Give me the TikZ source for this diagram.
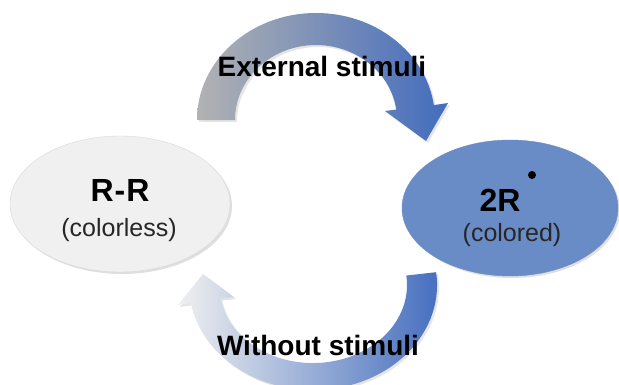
\documentclass[tikz,border=0pt]{standalone}
\usepackage{fontspec}
\setmainfont{Liberation Sans}
\usetikzlibrary{shadows,shapes.geometric}
\definecolor{arrowblue}{RGB}{66,108,190}
\definecolor{arrowgrey}{RGB}{178,178,178}
\definecolor{bubblegrey}{RGB}{240,240,240}
\definecolor{bubbleblue}{RGB}{106,140,198}
\tikzset{
  bubble/.style={ellipse, inner sep=0pt, draw=white!85!black, line width=0.4pt,
    drop shadow={opacity=0.25, shadow xshift=2pt, shadow yshift=-2pt}},
  bigarrow/.style={shading=axis, shading angle=90,
    drop shadow={opacity=0.2, shadow xshift=2pt, shadow yshift=-2pt}},
  lbl/.style={font=\bfseries\fontsize{28}{32}\selectfont, text=black, inner sep=0pt},
  titletext/.style={font=\bfseries\fontsize{32}{36}\selectfont, inner sep=0pt},
  subtext/.style={font=\fontsize{25}{29}\selectfont, text=black!85, inner sep=0pt}
}
\begin{document}
\begin{tikzpicture}[x=1pt,y=1pt]
\useasboundingbox (0,0) rectangle (619,385);
\clip (0,0) rectangle (619,385);
\fill[white] (0,0) rectangle (619,385);
% top curved arrow (grey -> blue)
\path[bigarrow, left color=arrowgrey, right color=arrowblue]
  (197,265) arc[start angle=180, end angle=8, x radius=119, y radius=107]
  -- (448,282) -- (426,244) -- (385,274)
  -- (396.2,275.4) arc[start angle=8, end angle=180, x radius=81, y radius=75]
  -- cycle;
% bottom curved arrow (blue -> light)
\path[bigarrow, left color=white!94!black, right color=arrowblue]
  (436.1,112.8) arc[start angle=7, end angle=-170, x radius=124, y radius=105]
  -- (178,80) -- (203,111) -- (234,88)
  -- (220.4,86.4) arc[start angle=-170, end angle=7, x radius=94, y radius=78]
  -- cycle;
% states
\node[bubble, fill=bubblegrey, minimum width=220pt, minimum height=136pt] (rr) at (120,181) {};
\node[bubble, fill=bubbleblue, draw=bubbleblue, minimum width=216pt, minimum height=136pt] (tr) at (510,177) {};
\node[titletext] (rrt) at (120,195) {R\kern1pt-\kern1pt R};
\node[subtext] (rrs) at (119,155) {(colorless)};
\node[titletext] (trt) at (500,185) {2R};
\fill[black] (532,210) circle (4);
\node[subtext] (trs) at (512,150) {(colored)};
% labels
\node[lbl] (ext) at (322,319) {External stimuli};
\node[lbl] (wo) at (318,40) {Without stimuli};
\end{tikzpicture}
\end{document}
